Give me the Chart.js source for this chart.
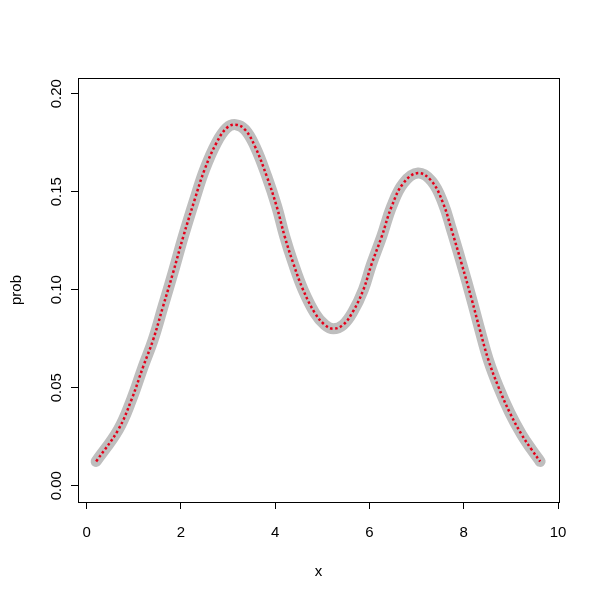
<!DOCTYPE html>
<html>
<head>
<meta charset="utf-8">
<script src="https://cdn.jsdelivr.net/npm/chart.js@4/dist/chart.umd.min.js"></script>
<style>
  html, body { margin: 0; padding: 0; background: #fff; }
  #wrap { width: 600px; height: 600px; }
</style>
</head>
<body>
<div id="wrap"><canvas id="chart" width="600" height="600"></canvas></div>
<script>
// values
const xValues = [0.20, 0.67, 0.95, 1.20, 1.41, 1.62, 1.83, 2.05, 2.29, 2.50, 2.75, 2.97, 3.16, 3.36, 3.57, 3.82,
  4.03, 4.20, 4.38, 4.59, 4.84, 5.05, 5.23, 5.44, 5.65, 5.87, 6.04, 6.26, 6.47, 6.72, 7.03, 7.32,
  7.56, 7.74, 7.95, 8.17, 8.34, 8.52, 8.73, 8.98, 9.23, 9.44, 9.62];
const probValues = [0.0124, 0.0286, 0.0439, 0.0609, 0.0745, 0.0915, 0.1085, 0.1272, 0.1459, 0.1612, 0.1748, 0.1825, 0.1842, 0.1816, 0.1731, 0.1578,
  0.1425, 0.1272, 0.1136, 0.1000, 0.0881, 0.0821, 0.0801, 0.0821, 0.0889, 0.1000, 0.1128, 0.1272, 0.1425, 0.1544, 0.1595, 0.1553,
  0.1442, 0.1306, 0.1136, 0.0949, 0.0796, 0.0643, 0.0507, 0.0371, 0.0260, 0.0184, 0.0124];
const xTicks = [0, 2, 4, 6, 8, 10];
const yTicks = [0, 0.05, 0.10, 0.15, 0.20];

const points = xValues.map((x, i) => ({ x: x, y: probValues[i] }));
const FONT = 'Liberation Sans, Arial, sans-serif';
const FSIZE = 15;

// box round the plot and y labels turned like R does
const rStyle = {
  id: 'rStyle',
  afterDraw(c) {
    const { ctx, chartArea: a, scales } = c;
    ctx.save();
    ctx.strokeStyle = '#000';
    ctx.lineWidth = 1;
    ctx.strokeRect(a.left + 0.5, a.top + 0.5, a.right - a.left, a.bottom - a.top);
    ctx.fillStyle = '#000';
    ctx.font = FSIZE + 'px ' + FONT;
    ctx.textAlign = 'center';
    ctx.textBaseline = 'middle';
    yTicks.forEach(v => {
      const py = scales.y.getPixelForValue(v);
      ctx.save();
      ctx.translate(a.left - 21, py);
      ctx.rotate(-Math.PI / 2);
      ctx.fillText(v.toFixed(2), 0, 0);
      ctx.restore();
    });
    ctx.restore();
  }
};

new Chart(document.getElementById('chart'), {
  type: 'scatter',
  data: {
    datasets: [{
      // red dotted trace, on top
      data: points,
      order: 0,
      showLine: true,
      borderColor: '#E4001A',
      borderWidth: 2.5,
      borderDash: [2.5, 2.5],
      tension: 0.4,
      pointRadius: 0
    }, {
      // wide grey band underneath
      data: points,
      order: 1,
      showLine: true,
      borderColor: '#BEBEBE',
      borderWidth: 11,
      borderCapStyle: 'round',
      borderJoinStyle: 'round',
      tension: 0.4,
      pointRadius: 0
    }]
  },
  plugins: [rStyle],
  options: {
    responsive: false,
    animation: false,
    events: [],
    layout: { padding: { top: 78, right: 41, left: 0, bottom: 0 } },
    plugins: { legend: { display: false }, tooltip: { enabled: false } },
    scales: {
      x: {
        type: 'linear',
        min: -0.185,
        max: 10.02,
        afterBuildTicks: s => { s.ticks = xTicks.map(v => ({ value: v })); },
        afterFit: s => { s.height = 98; },
        grid: { drawOnChartArea: false, drawTicks: true, tickLength: 7, color: '#000' },
        border: { display: true, color: '#000' },
        ticks: { color: '#000', font: { family: FONT, size: FSIZE }, padding: 15, maxRotation: 0, callback: v => String(v) },
        title: { display: true, text: 'x', color: '#000', font: { family: FONT, size: FSIZE }, padding: { bottom: 19 } }
      },
      y: {
        type: 'linear',
        min: -0.0083,
        max: 0.208,
        afterBuildTicks: s => { s.ticks = yTicks.map(v => ({ value: v })); },
        afterFit: s => { s.width = 78; },
        grid: { drawOnChartArea: false, drawTicks: true, tickLength: 7, color: '#000' },
        border: { display: true, color: '#000' },
        ticks: { display: false },
        title: { display: true, text: 'prob', color: '#000', font: { family: FONT, size: FSIZE }, padding: { top: 8 } }
      }
    }
  }
});
</script>
</body>
</html>
